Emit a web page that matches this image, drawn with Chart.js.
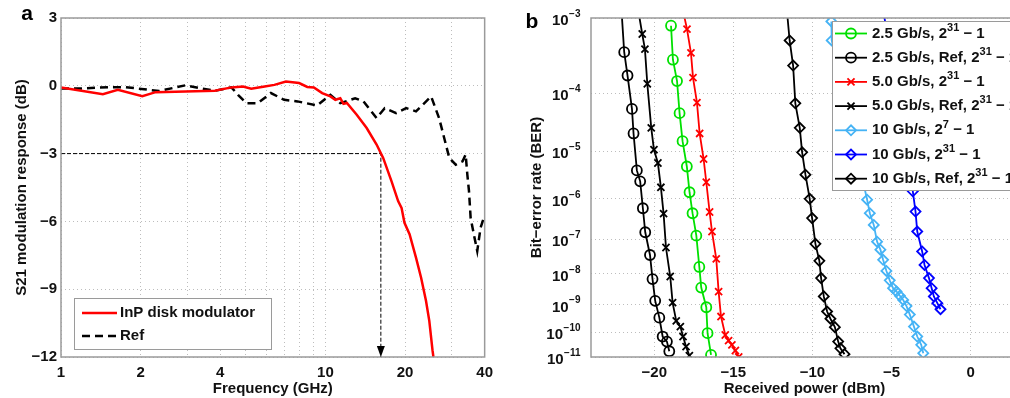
<!DOCTYPE html>
<html>
<head>
<meta charset="utf-8">
<script src="https://cdn.jsdelivr.net/npm/chart.js@4.4.1/dist/chart.umd.min.js"></script>
<style>
  html, body { margin: 0; padding: 0; background: #fff; overflow: hidden; }
  #wrap { position: relative; width: 1010px; height: 398px; overflow: hidden; }
  #cvA { position: absolute; left: 0; top: 0; }
  #cvB { position: absolute; left: 500px; top: 0; }
</style>
</head>
<body>
<div id="wrap">
  <canvas id="cvA" width="500" height="398"></canvas>
  <canvas id="cvB" width="540" height="398"></canvas>
</div>
<script>
/* Panel a: S21 response vs frequency. Panel b: BER vs received power. */

// ─── panel a data (GHz, dB) ───
const freqInP = [1, 1.44, 1.64, 2.03, 2.28, 2.95, 3.82, 4.41, 4.88, 5.24, 5.89, 6.41, 7.09, 7.95, 8.54, 9.04, 9.72, 10.44, 10.9, 11.38, 11.7, 12.05, 13.13, 14.32, 15.61, 16.53, 17.77, 18.83, 19.4, 19.9, 20.8, 22.0, 23.0, 24.0, 24.7, 25.4, 25.6];
const dbInP   = [-0.07, -0.37, -0.18, -0.46, -0.28, -0.25, -0.22, -0.07, -0.03, -0.13, -0.03, 0.04, 0.19, 0.12, -0.05, -0.07, -0.32, -0.47, -0.62, -0.55, -0.8, -0.76, -1.28, -1.87, -2.60, -3.19, -4.22, -5.1, -5.4, -6.06, -6.57, -7.6, -8.49, -9.51, -10.4, -11.7, -12.0];
const freqRef = [1, 1.18, 1.52, 1.76, 2.35, 2.95, 3.41, 3.82, 4.41, 4.67, 5.02, 5.55, 6.22, 6.98, 7.84, 9.31, 10.44, 11.38, 12.95, 13.93, 15.61, 16.75, 18.5, 20.2, 22.0, 25.1, 26.9, 29.4, 31.1, 33.0, 33.9, 34.4, 34.9, 35.4, 36.4, 37.5, 38.6, 39.7];
const dbRef   = [-0.12, -0.12, -0.06, -0.06, -0.23, 0.02, -0.12, -0.22, -0.07, -0.4, -0.77, -0.77, -0.32, -0.62, -0.69, -0.87, -0.4, -0.77, -0.55, -0.69, -1.43, -0.99, -1.21, -0.99, -1.13, -0.47, -1.43, -3.19, -3.49, -3.34, -3.04, -3.93, -4.66, -5.84, -6.57, -7.31, -6.28, -5.84];
const cutFreq = [1, 16.2, 16.2];
const cutDb   = [-3, -3, -12];
const freqTicks  = [1, 2, 3, 4, 5, 6, 7, 8, 9, 10, 20, 30, 40];
const freqLabels = [1, 2, 4, 10, 20, 40];
const dbTicks    = [3, 0, -3, -6, -9, -12];

// ─── panel b data (dBm, log10 BER) ───
const pwr25    = [-18.94, -18.82, -18.56, -18.40, -18.21, -17.94, -17.77, -17.58, -17.34, -17.15, -17.03, -16.71, -16.63, -16.41];
const ber25    = [-3.09, -3.52, -3.82, -4.32, -4.81, -5.30, -5.85, -6.34, -6.91, -7.79, -8.43, -9.09, -10.04, -10.91];
const pwrRef25 = [-22.04, -21.9, -21.69, -21.41, -21.31, -21.10, -20.89, -20.72, -20.57, -20.27, -20.11, -19.94, -19.68, -19.47, -19.20, -19.05];
const berRef25 = [-3, -3.42, -3.74, -4.25, -4.67, -5.38, -5.61, -6.22, -6.82, -7.44, -8.16, -8.87, -9.46, -10.17, -10.37, -10.76];
const pwr50    = [-18.08, -17.93, -17.68, -17.55, -17.30, -17.13, -16.88, -16.71, -16.50, -16.35, -16.08, -15.93, -15.78, -15.51, -15.30, -15.09, -14.87, -14.66];
const ber50    = [-3, -3.13, -3.43, -3.77, -4.15, -4.67, -5.15, -5.63, -6.31, -6.80, -7.55, -8.56, -9.42, -10.11, -10.33, -10.50, -10.73, -11.0];
const pwrRef50 = [-20.93, -20.76, -20.59, -20.44, -20.19, -20.02, -19.77, -19.58, -19.41, -19.26, -18.99, -18.84, -18.61, -18.35, -18.18, -17.99, -17.78];
const berRef50 = [-3, -3.19, -3.38, -3.86, -4.57, -4.97, -5.23, -5.74, -6.35, -7.23, -8.08, -8.93, -9.58, -9.79, -10.17, -10.57, -10.94];
const pwr10p7  = [-8.80, -8.78, -6.54, -6.37, -6.12, -5.91, -5.70, -5.53, -5.32, -5.11, -4.90, -4.68, -4.47, -4.26, -4.05, -3.84, -3.58, -3.37, -3.12, -2.99];
const ber10p7  = [-3.04, -3.27, -6.02, -6.34, -6.63, -7.07, -7.29, -7.58, -7.91, -8.20, -8.45, -8.56, -8.70, -8.84, -9.05, -9.35, -9.79, -10.17, -10.50, -10.84];
const pwr10    = [-5.44, -3.65, -3.48, -3.37, -3.06, -2.91, -2.63, -2.46, -2.32, -2.10, -1.90];
const ber10    = [-3, -5.83, -6.30, -6.80, -7.34, -7.73, -8.13, -8.45, -8.72, -8.95, -9.16];
const pwrRef10 = [-11.57, -11.44, -11.22, -11.08, -10.80, -10.65, -10.44, -10.17, -10.02, -9.81, -9.56, -9.45, -9.28, -9.07, -8.86, -8.58, -8.37, -8.23, -7.97];
const berRef10 = [-3, -3.27, -3.60, -4.16, -4.57, -5.02, -5.47, -6.00, -6.46, -7.13, -7.61, -8.13, -8.72, -9.24, -9.50, -9.81, -10.37, -10.64, -10.88];
const pwrTicks = [-20, -15, -10, -5, 0];
const berDecades = [3, 4, 5, 6, 7, 8, 9, 10, 11];   // BER = 10^-n

const $ = (id) => document.getElementById(id);
const FONT = '"Liberation Sans", Arial, sans-serif';
const fnt = (px) => ({ family: FONT, size: px, weight: 'bold' });
const INK = '#111';
const GRID = '#bdbdbd';
const FRAME = '#9a9a9a';
const minus = (v) => (v < 0 ? '\u2212' + (-v) : String(v));
const pts = (xs, ys) => xs.map((x, i) => ({ x, y: ys[i] }));
const berAxis = (e) => Math.log10(-e);                 // "log(-log BER)" axis
const bpts = (xs, es) => xs.map((x, i) => ({ x, y: berAxis(es[i]) }));

// draw "2.5 Gb/s, 2^31 − 1" with a raised exponent
function supText(ctx, str, x, y, px) {
  const parts = str.split(/\^(\d+)/);
  ctx.textBaseline = 'middle';
  ctx.textAlign = 'left';
  parts.forEach((p, i) => {
    const sup = i % 2 === 1;
    ctx.font = 'bold ' + (sup ? Math.round(px * 0.7) : px) + 'px ' + FONT;
    ctx.fillText(p, x, sup ? y - px * 0.38 : y);
    x += ctx.measureText(p).width;
  });
}

function frame(ctx, ca) {
  ctx.save();
  ctx.strokeStyle = FRAME; ctx.lineWidth = 1.5;
  ctx.strokeRect(ca.left, ca.top, ca.right - ca.left, ca.bottom - ca.top);
  ctx.restore();
}

// ─── panel a ───
const panelA = {
  id: 'panelA',
  afterDraw(chart) {
    const { ctx, chartArea: ca, scales } = chart;
    frame(ctx, ca);
    ctx.save();
    // arrow head at end of the -3 dB marker
    const ax = scales.x.getPixelForValue(cutFreq[2]);
    const ay = scales.y.getPixelForValue(cutDb[2]);
    ctx.fillStyle = '#000';
    ctx.beginPath(); ctx.moveTo(ax, ay); ctx.lineTo(ax - 4, ay - 11); ctx.lineTo(ax + 4, ay - 11); ctx.closePath(); ctx.fill();
    // legend
    const lx = ca.left + 13, ly = ca.bottom - 59;
    ctx.fillStyle = '#fff'; ctx.fillRect(lx, ly, 197, 51);
    ctx.strokeStyle = FRAME; ctx.lineWidth = 1; ctx.strokeRect(lx + 0.5, ly + 0.5, 197, 51);
    chart.data.datasets.slice(0, 2).forEach((ds, i) => {
      const y = ly + 15 + i * 23;
      ctx.strokeStyle = ds.borderColor; ctx.lineWidth = ds.borderWidth;
      ctx.setLineDash(ds.borderDash || []);
      ctx.beginPath(); ctx.moveTo(lx + 8, y); ctx.lineTo(lx + 43, y); ctx.stroke();
      ctx.setLineDash([]);
      ctx.fillStyle = INK; supText(ctx, ds.label, lx + 46, y, 15);
    });
    ctx.font = 'bold 21px ' + FONT; ctx.fillStyle = '#000'; ctx.textAlign = 'center';
    ctx.fillText('a', 27, 14);
    ctx.restore();
  },
};

new Chart($('cvA'), {
  type: 'line',
  data: {
    datasets: [
      { label: 'InP disk modulator', data: pts(freqInP, dbInP), borderColor: '#ff0000', borderWidth: 2.5, pointRadius: 0 },
      { label: 'Ref', data: pts(freqRef, dbRef), borderColor: '#000', borderWidth: 2.5, borderDash: [8, 5], pointRadius: 0 },
      { label: '-3 dB', data: pts(cutFreq, cutDb), borderColor: '#000', borderWidth: 1, borderDash: [4, 2], pointRadius: 0 },
    ],
  },
  options: {
    responsive: false, animation: false, devicePixelRatio: 1,
    layout: { padding: { left: 0, right: 11, top: 18, bottom: 0 } },
    plugins: { legend: { display: false }, tooltip: { enabled: false } },
    scales: {
      x: {
        type: 'logarithmic', min: 1, max: 40,
        afterBuildTicks: (s) => { s.ticks = freqTicks.map((v) => ({ value: v })); },
        afterFit: (s) => { s.height = 41; },
        ticks: { autoSkip: false, maxRotation: 0, padding: 7, color: INK, font: fnt(15), callback: (v) => (freqLabels.includes(v) ? String(v) : '') },
        grid: { color: GRID, drawTicks: false },
        border: { display: false, dash: [1, 3] },
        title: { display: true, text: 'Frequency (GHz)', color: INK, font: fnt(15), padding: { top: 0, bottom: 0 } },
      },
      y: {
        min: -12, max: 3,
        afterBuildTicks: (s) => { s.ticks = dbTicks.map((v) => ({ value: v })); },
        afterFit: (s) => { s.width = 61; },
        ticks: { padding: 4, color: INK, font: fnt(15), callback: (v) => minus(v) },
        grid: { color: GRID, drawTicks: false },
        border: { display: false, dash: [1, 3] },
        title: { display: true, text: 'S21 modulation response (dB)', color: INK, font: fnt(15), padding: { top: 13, bottom: 0 } },
      },
    },
  },
  plugins: [panelA],
});

// ─── panel b ───
const panelB = {
  id: 'panelB',
  afterDraw(chart) {
    const { ctx, chartArea: ca, scales } = chart;
    frame(ctx, ca);
    ctx.save();
    ctx.fillStyle = INK;
    // y tick labels 10^-n
    scales.y.ticks.forEach((t) => {
      const n = Math.round(Math.pow(10, t.value));
      const y = scales.y.getPixelForValue(t.value);
      ctx.font = 'bold 10px ' + FONT;
      const sw = ctx.measureText('\u2212' + n).width;
      ctx.font = 'bold 15px ' + FONT;
      const bw = ctx.measureText('10').width;
      const x0 = ca.left - 11 - sw - bw;
      ctx.textAlign = 'left'; ctx.textBaseline = 'middle';
      ctx.fillText('10', x0, y + 3);
      ctx.font = 'bold 10px ' + FONT;
      ctx.fillText('\u2212' + n, x0 + bw + 0.5, y - 4);
    });
    // legend
    const lx = ca.left + 241, ly = ca.top + 3;
    ctx.fillStyle = '#fff'; ctx.fillRect(lx, ly, 220, 169);
    ctx.strokeStyle = FRAME; ctx.lineWidth = 1; ctx.strokeRect(lx + 0.5, ly + 0.5, 220, 169);
    chart.data.datasets.forEach((ds, i) => {
      const y = ly + 12.5 + i * 24.2;
      ctx.strokeStyle = ds.borderColor; ctx.lineWidth = ds.borderWidth;
      ctx.beginPath(); ctx.moveTo(lx + 3, y); ctx.lineTo(lx + 35, y); ctx.stroke();
      ctx.fillStyle = 'rgba(0,0,0,0)';
      Chart.helpers.drawPoint(ctx, { pointStyle: ds.pointStyle, radius: 5, borderWidth: ds.pointBorderWidth, rotation: 0 }, lx + 19, y);
      ctx.fillStyle = INK; supText(ctx, ds.label, lx + 40, y, 15);
    });
    ctx.font = 'bold 21px ' + FONT; ctx.fillStyle = '#000'; ctx.textAlign = 'center'; ctx.textBaseline = 'alphabetic';
    ctx.fillText('b', 32, 28);
    ctx.restore();
  },
};

const topAxis = Math.log10(berDecades[0]);
const series = (label, color, style, xs, es) => ({
  label, data: bpts(xs, es), borderColor: color, backgroundColor: 'rgba(0,0,0,0)',
  borderWidth: 1.8, pointStyle: style, pointBorderWidth: 1.8,
  pointBackgroundColor: 'rgba(0,0,0,0)', pointBorderColor: color,
  pointRadius: (c) => (c.raw && c.raw.y <= topAxis + 1e-9 ? 0 : 5),
});

new Chart($('cvB'), {
  type: 'line',
  data: {
    datasets: [
      series('2.5 Gb/s, 2^31 \u2212 1', '#00e000', 'circle', pwr25, ber25),
      series('2.5 Gb/s, Ref, 2^31 \u2212 1', '#000', 'circle', pwrRef25, berRef25),
      series('5.0 Gb/s, 2^31 \u2212 1', '#ff0000', 'crossRot', pwr50, ber50),
      series('5.0 Gb/s, Ref, 2^31 \u2212 1', '#000', 'crossRot', pwrRef50, berRef50),
      series('10 Gb/s, 2^7 \u2212 1', '#45b3f5', 'rectRot', pwr10p7, ber10p7),
      series('10 Gb/s, 2^31 \u2212 1', '#0000ff', 'rectRot', pwr10, ber10),
      series('10 Gb/s, Ref, 2^31 \u2212 1', '#000', 'rectRot', pwrRef10, berRef10),
    ],
  },
  options: {
    responsive: false, animation: false, devicePixelRatio: 1,
    layout: { padding: { left: 0, right: 22, top: 18, bottom: 0 } },
    plugins: { legend: { display: false }, tooltip: { enabled: false } },
    scales: {
      x: {
        type: 'linear', min: -24, max: 3,
        afterBuildTicks: (s) => { s.ticks = pwrTicks.map((v) => ({ value: v })); },
        afterFit: (s) => { s.height = 41; },
        ticks: { autoSkip: false, maxRotation: 0, padding: 7, color: INK, font: fnt(15), callback: (v) => minus(v) },
        grid: { color: GRID, drawTicks: false },
        border: { display: false, dash: [1, 3] },
        title: { display: true, text: 'Received power (dBm)', color: INK, font: fnt(15), padding: { top: 0, bottom: 0 } },
      },
      y: {
        type: 'linear', reverse: true,
        min: Math.log10(berDecades[0]), max: Math.log10(berDecades[berDecades.length - 1]),
        afterBuildTicks: (s) => { s.ticks = berDecades.map((n) => ({ value: Math.log10(n) })); },
        afterFit: (s) => { s.width = 91; },
        ticks: { display: false },
        grid: { color: GRID, drawTicks: false },
        border: { display: false, dash: [1, 3] },
        title: { display: true, text: 'Bit\u2212error rate (BER)', color: INK, font: fnt(15), padding: { top: 28, bottom: 0 } },
      },
    },
  },
  plugins: [panelB],
});
</script>
</body>
</html>
